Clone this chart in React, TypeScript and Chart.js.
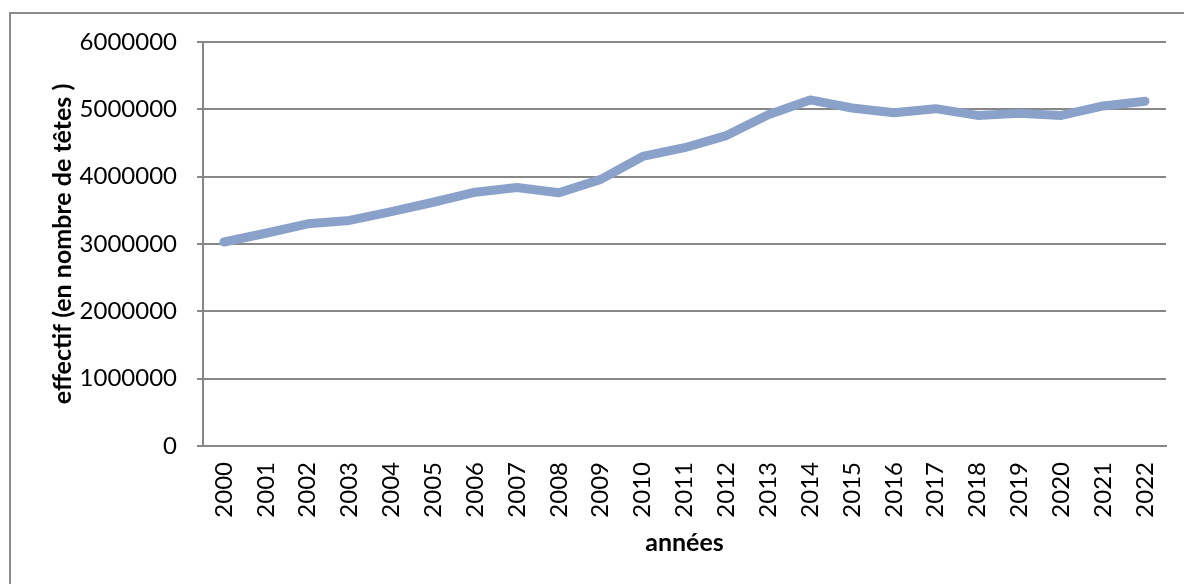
import React, { useEffect, useRef } from "react";
import { Chart, registerables } from "chart.js";

Chart.register(...registerables);

const years = [
  "2000", "2001", "2002", "2003", "2004", "2005", "2006", "2007", "2008", "2009", "2010", "2011",
  "2012", "2013", "2014", "2015", "2016", "2017", "2018", "2019", "2020", "2021", "2022",
];

const effectif = [
  3030000, 3160000, 3300000, 3350000, 3480000, 3620000, 3770000, 3840000, 3760000, 3960000,
  4300000, 4430000, 4610000, 4920000, 5140000, 5020000, 4950000, 5010000, 4910000, 4940000,
  4910000, 5050000, 5120000,
];

const yMin = 0;
const yMax = 6000000;
const yStep = 1000000;

const xTitle = "années";
const yTitle = "effectif (en nombre de têtes )";

const FONT = "Lato, 'Open Sans', 'DejaVu Sans', sans-serif";
const GRID = "#878787";
const LINE = "#8aa2c9";

export default function App() {
  const ref = useRef<HTMLCanvasElement | null>(null);

  useEffect(() => {
    if (!ref.current) return;
    const chart = new Chart(ref.current, {
      type: "line",
      data: {
        labels: years,
        datasets: [
          {
            data: effectif,
            borderColor: LINE,
            backgroundColor: LINE,
            borderWidth: 9,
            borderCapStyle: "round",
            borderJoinStyle: "round",
            pointRadius: 0,
            pointHoverRadius: 0,
            tension: 0,
            fill: false,
          },
        ],
      },
      options: {
        responsive: false,
        animation: false,
        devicePixelRatio: 1,
        layout: { padding: { left: 0, top: 42, right: 18, bottom: 0 } },
        plugins: {
          legend: { display: false },
          tooltip: { enabled: false },
          title: { display: false },
        },
        scales: {
          x: {
            type: "category",
            offset: true,
            afterFit: (scale: any) => {
              scale.height = 138;
              scale.paddingLeft = 0;
              scale.paddingRight = 0;
            },
            grid: {
              display: true,
              drawOnChartArea: false,
              drawTicks: false,
              tickLength: 0,
              color: GRID,
            },
            border: { display: true, color: GRID, width: 2 },
            ticks: {
              color: "#000",
              font: { family: FONT, size: 24 },
              minRotation: 90,
              maxRotation: 90,
              autoSkip: false,
              padding: 16,
            },
            title: {
              display: true,
              text: xTitle,
              color: "#000",
              font: { family: FONT, size: 25, weight: "bold" },
              padding: { top: 0, bottom: 26 },
            },
          },
          y: {
            min: yMin,
            max: yMax,
            afterFit: (scale: any) => {
              scale.width = 203;
              scale.paddingTop = 0;
              scale.paddingBottom = 0;
            },
            grid: {
              color: GRID,
              lineWidth: 2,
              drawTicks: true,
              tickLength: 6,
            },
            border: { display: true, color: GRID, width: 2 },
            ticks: {
              stepSize: yStep,
              color: "#000",
              font: { family: FONT, size: 24 },
              padding: 20,
              callback: (v: any) => String(v),
            },
            title: {
              display: true,
              text: yTitle,
              color: "#000",
              font: { family: FONT, size: 25, weight: "bold" },
              padding: { top: 48, bottom: 0 },
            },
          },
        },
      },
    });
    return () => chart.destroy();
  }, []);

  return (
    <div style={{ position: "fixed", left: 0, top: 0, width: 1184, height: 584, background: "#fff" }}>
      <div
        style={{
          position: "absolute",
          left: 9,
          top: 12,
          width: 1184,
          height: 584,
          borderTop: "2px solid #8c8c8c",
          borderLeft: "2px solid #8c8c8c",
        }}
      />
      <canvas
        ref={ref}
        width={1184}
        height={584}
        style={{ position: "absolute", left: 0, top: 0, width: 1184, height: 584 }}
      />
    </div>
  );
}
